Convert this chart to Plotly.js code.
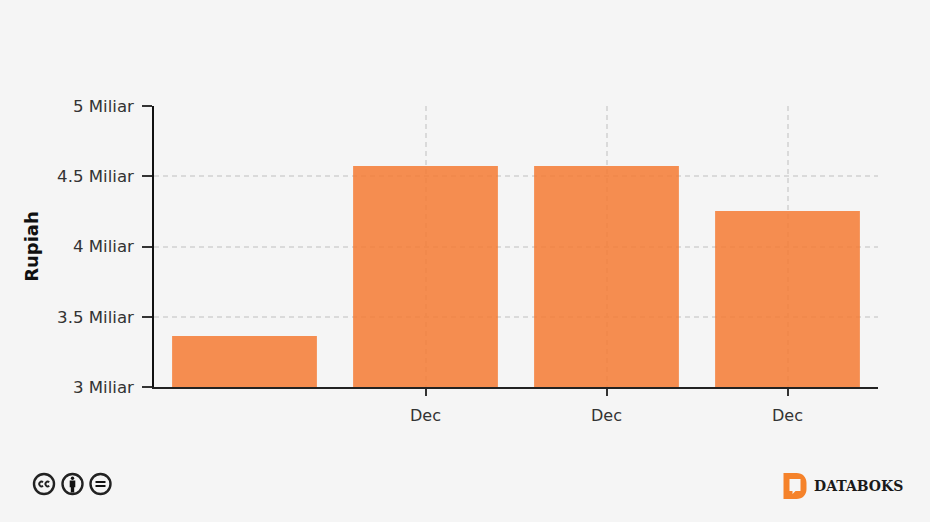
<!DOCTYPE html>
<html><head><meta charset="utf-8">
<script src="https://cdn.plot.ly/plotly-3.0.1.min.js"></script>
<style>html,body{margin:0;padding:0;background:#f5f5f5}#c{width:930px;height:522px}</style>
</head><body><div id="c"></div>
<script>
const positions = [0, 1, 2, 3];
const values = [3363000000, 4573000000, 4573000000, 4253000000];
const xTickVals = [1, 2, 3];
const xTickText = ['Dec', 'Dec', 'Dec'];
const yTickVals = [3e9, 3.5e9, 4e9, 4.5e9, 5e9];
const yTickText = ['3 Miliar', '3.5 Miliar', '4 Miliar', '4.5 Miliar', '5 Miliar'];
const font = 'DejaVu Sans, Verdana, sans-serif';

function uri(svg){ return 'data:image/svg+xml;utf8,' + encodeURIComponent(svg); }
const ring = '<circle cx="12" cy="12" r="10" fill="#f5f5f5" stroke="#222" stroke-width="2.4"/>';
const svgCC = '<svg xmlns="http://www.w3.org/2000/svg" width="24" height="24" viewBox="0 0 24 24">' + ring +
  '<path d="M11 10.2a2.3 2.3 0 1 0 0 3.6M17.2 10.2a2.3 2.3 0 1 0 0 3.6" fill="none" stroke="#222" stroke-width="1.9"/></svg>';
const svgBY = '<svg xmlns="http://www.w3.org/2000/svg" width="24" height="24" viewBox="0 0 24 24">' + ring +
  '<circle cx="12" cy="6.2" r="1.7" fill="#111"/><path d="M9.2 8.6h5.6v6.6h-1.1v5.4h-3.4v-5.4H9.2z" fill="#111"/></svg>';
const svgEQ = '<svg xmlns="http://www.w3.org/2000/svg" width="24" height="24" viewBox="0 0 24 24">' + ring +
  '<path d="M7 8.9h10v2.2H7zM7 12.9h10v2.2H7z" fill="#111"/></svg>';
const svgD = '<svg xmlns="http://www.w3.org/2000/svg" width="26" height="28" viewBox="0 0 26 28">' +
  '<path fill-rule="evenodd" d="M1 1h13c6 0 10 4 10 10v6c0 6-4 10-10 10H1z M7 7v12h3v3l3-3h5V7z" fill="#f5822a"/></svg>';

function img(src, x, y, w, h){
  return {source: uri(src), xref:'paper', yref:'paper',
    x: (x-154)/724, y: (387-y)/281, sizex: w/724, sizey: h/281,
    xanchor:'left', yanchor:'top', sizing:'stretch', layer:'above'};
}

Plotly.newPlot('c', [{
  type:'bar', x: positions, y: values, width: 0.8,
  marker:{color:'#f47a33', opacity:0.85, line:{width:0}},
  hoverinfo:'y'
}], {
  width:930, height:522, paper_bgcolor:'#f5f5f5', plot_bgcolor:'#f5f5f5',
  margin:{l:154, r:52, t:106, b:135, pad:0},
  font:{family:font, size:16, color:'#333'},
  showlegend:false,
  bargap:0.2,
  xaxis:{range:[-0.5,3.5], tickmode:'array', tickvals:xTickVals, ticktext:xTickText,
    ticks:'outside', ticklen:7, tickwidth:1.5, tickcolor:'#333',
    ticklabelstandoff:6,
    showline:true, linecolor:'#222', linewidth:1.5,
    showgrid:true, gridcolor:'#dadada', griddash:'5px,4px', gridwidth:2, zeroline:false,
    tickfont:{family:font, size:16, color:'#333'}},
  yaxis:{range:[3e9,5e9], tickmode:'array', tickvals:yTickVals, ticktext:yTickText,
    ticks:'outside', ticklen:10, tickwidth:1.5, tickcolor:'#333',
    ticklabelstandoff:5,
    showline:true, linecolor:'#111', linewidth:1.5,
    showgrid:true, gridcolor:'#dadada', griddash:'5px,4px', gridwidth:2, zeroline:false,
    tickfont:{family:font, size:16.6, color:'#333'},
    title:{text:'<b>Rupiah</b>', font:{family:font, size:18, color:'#111'}, standoff:14}},
  images:[
    img(svgCC, 32, 472, 24, 24),
    img(svgBY, 60.5, 472, 24, 24),
    img(svgEQ, 88.5, 472, 24, 24),
    img(svgD, 782.5, 472, 26, 28)
  ],
  annotations:[{text:'<b>DATABOKS</b>', xref:'paper', yref:'paper',
    x:(811.5-154)/724, y:(387-485.5)/281, xanchor:'left', yanchor:'middle', showarrow:false,
    font:{family:'DejaVu Serif, serif', size:14, color:'#1a1a1a'}}]
}, {displayModeBar:false, responsive:false});
</script></body></html>
